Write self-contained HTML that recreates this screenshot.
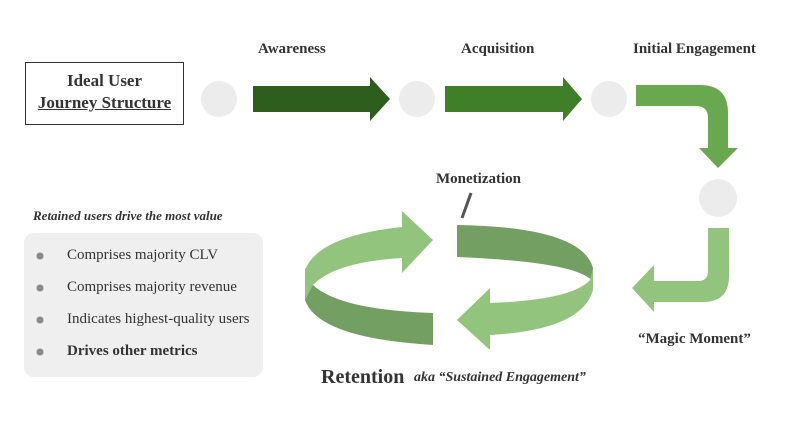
<!DOCTYPE html>
<html><head><style>
body{margin:0;width:800px;height:424px;background:#fff;position:relative;overflow:hidden;font-family:"Liberation Serif",serif;color:#333}
.t{position:absolute;white-space:nowrap}
.b{font-weight:bold}
</style></head><body>
<svg width="800" height="424" style="position:absolute;left:0;top:0">
<rect x="25.5" y="62.5" width="158" height="62" fill="#fff" stroke="#333" stroke-width="1"/>
<circle cx="219" cy="99" r="18" fill="#ececec"/>
<circle cx="417" cy="99" r="18" fill="#ececec"/>
<circle cx="609" cy="99" r="18" fill="#ececec"/>
<circle cx="718" cy="198" r="19" fill="#ececec"/>
<polygon points="253,86 370,86 370,77 390,99 370,121 370,112 253,112" fill="#2d5e1e"/>
<polygon points="445,86 563,86 563,77 582,99 563,121 563,112 445,112" fill="#3f7f27"/>
<path d="M636,85 L700,85 Q728,85 728,113 L728,148 L738,148 L718,168 L699,148 L708,148 L708,118 Q708,106 696,106 L636,106 Z" fill="#6aa84f"/>
<path d="M708,228 L729,228 L729,276 Q729,302 703,302 L654,302 L654,312 L632,288 L654,265 L654,281 L698,281 Q708,281 708,271 Z" fill="#93c47d"/>
<path d="M305,268 L305,300 Q318,338 433,345 L433,313 Q340,310 313,285 Z" fill="#739f62"/>
<path d="M305,270 Q318,236 402,227 L402,211 L433,240 L402,273 L402,258 Q335,262 313,285 L305,300 Z" fill="#93c47d"/>
<path d="M457,225 Q582,227 593,268 L593,282 Q580,262 457,257 Z" fill="#739f62"/>
<path d="M593,268 L593,290 Q582,330 490,335 L490,350 L457,320 L490,288 L490,303 Q572,300 590,280 Z" fill="#93c47d"/>
<line x1="462" y1="218" x2="471" y2="193" stroke="#555" stroke-width="3"/>
<rect x="24" y="233" width="239" height="144" rx="10" fill="#efefef"/>
<circle cx="40" cy="256" r="3.5" fill="#888"/>
<circle cx="40" cy="288" r="3.5" fill="#888"/>
<circle cx="40" cy="320" r="3.5" fill="#888"/>
<circle cx="40" cy="352" r="3.5" fill="#888"/>
</svg>
<div class="t b" style="left:25px;top:70px;width:159px;text-align:center;font-size:17px;line-height:22px">Ideal User<br><span style="text-decoration:underline">Journey Structure</span></div>
<div class="t b" style="left:258px;top:41px;font-size:15px">Awareness</div>
<div class="t b" style="left:461px;top:41px;font-size:15px">Acquisition</div>
<div class="t b" style="left:633px;top:41px;font-size:15px">Initial Engagement</div>
<div class="t b" style="left:436px;top:171px;font-size:15px">Monetization</div>
<div class="t b" style="left:638px;top:331px;font-size:15px">“Magic Moment”</div>
<div class="t b" style="left:33px;top:208px;font-size:13px;font-style:italic">Retained users drive the most value</div>
<div class="t" style="left:67px;top:247px;font-size:15px">Comprises majority CLV</div>
<div class="t" style="left:67px;top:279px;font-size:15px">Comprises majority revenue</div>
<div class="t" style="left:67px;top:311px;font-size:15px">Indicates highest-quality users</div>
<div class="t b" style="left:67px;top:343px;font-size:15px">Drives other metrics</div>
<div class="t b" style="left:321px;top:366px;font-size:20px">Retention</div>
<div class="t b" style="left:414px;top:370px;font-size:14px;font-style:italic">aka “Sustained Engagement”</div>
</body></html>
